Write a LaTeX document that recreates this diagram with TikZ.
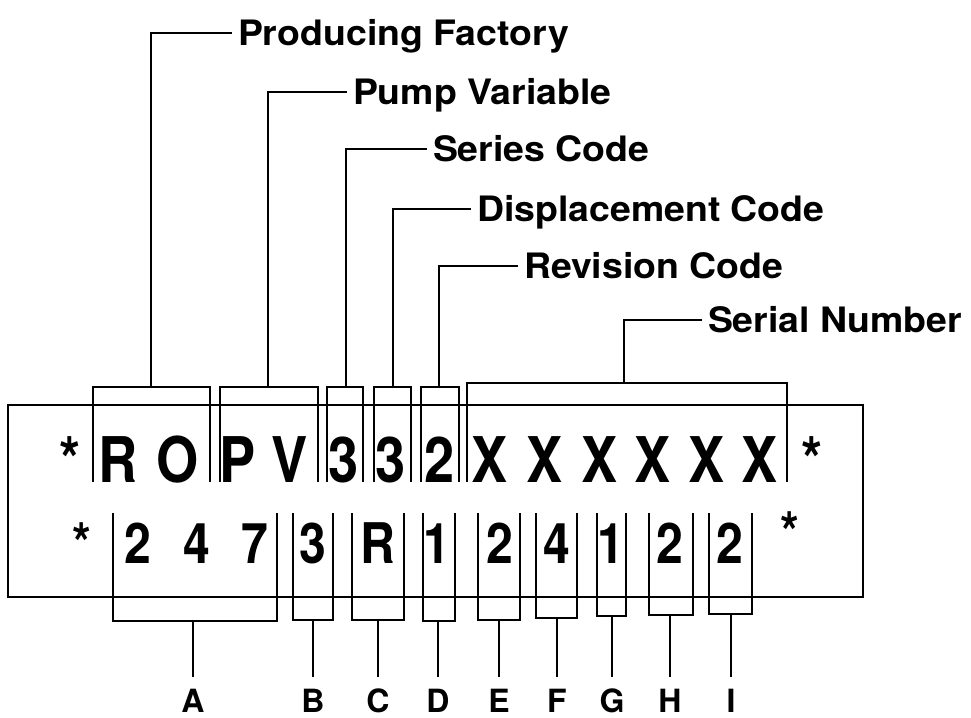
\documentclass[tikz,border=0pt]{standalone}
\usepackage{fontspec}
\setmainfont{TeX Gyre Heros}
\newfontfamily\placafont{TeX Gyre Heros}[FakeStretch=0.86]
\newfontfamily\rotulofont{TeX Gyre Heros}[FakeStretch=1.07]

\begin{document}
\begin{tikzpicture}[x=1pt, y=-1pt, line width=2pt,
    rotulo/.style={anchor=west, inner sep=0pt, inner xsep=5pt, text height=25pt, text depth=0pt,
        font=\rotulofont\bfseries\fontsize{35}{35}\selectfont},
    grande/.style={anchor=base, inner sep=0pt, font=\placafont\bfseries\fontsize{63}{63}\selectfont},
    chico/.style={anchor=base, inner sep=0pt, font=\placafont\bfseries\fontsize{56}{56}\selectfont},
    letra/.style={anchor=base, inner sep=0pt, text height=24pt, font=\bfseries\fontsize{32}{32}\selectfont}]
        \useasboundingbox (0,0) rectangle (971,717);

        % Placa exterior
        \draw[line width=2.4pt] (8,405) rectangle (863,597);

        % Fila superior de caracteres
        \node[grande] (t0) at (70,482) {*};
        \node[grande] (t1) at (118,482) {R};
        \node[grande] (t2) at (178,482) {O};
        \node[grande] (t3) at (238,482) {P};
        \node[grande] (t4) at (290,482) {V};
        \node[grande] (t5) at (344,482) {3};
        \node[grande] (t6) at (391,482) {3};
        \node[grande] (t7) at (440,482) {2};
        \node[grande] (t8) at (490,482) {X};
        \node[grande] (t9) at (545,482) {X};
        \node[grande] (t10) at (600,482) {X};
        \node[grande] (t11) at (653,482) {X};
        \node[grande] (t12) at (707,482) {X};
        \node[grande] (t13) at (760,482) {X};
        \node[grande] (t14) at (812,482) {*};

        % Fila inferior de caracteres
        \node[chico] (b0) at (82,563) {*};
        \node[chico] (b1) at (138,563) {2};
        \node[chico] (b2) at (197,563) {4};
        \node[chico] (b3) at (255,563) {7};
        \node[chico] (b4) at (313,563) {3};
        \node[chico] (b5) at (378,563) {R};
        \node[chico] (b6) at (437,563) {1};
        \node[chico] (b7) at (500,563) {2};
        \node[chico] (b8) at (557,563) {4};
        \node[chico] (b9) at (611,563) {1};
        \node[chico] (b10) at (670,563) {2};
        \node[chico] (b11) at (730,563) {2};
        \node[chico] (b12) at (790,552) {*};

        % Corchetes de la fila superior
        \draw (93,482) |- (210,387) -- (210,482);
        \draw (220,482) |- (318,387) -- (318,482);
        \draw (327,482) |- (363,387) -- (363,482);
        \draw (374,482) |- (411,387) -- (411,482);
        \draw (421,482) |- (459,387) -- (459,482);
        \draw (467,482) |- (787,383) -- (787,482);
        \coordinate (fab) at (151,387);
        \coordinate (var) at (268,387);
        \coordinate (ser) at (346,387);
        \coordinate (des) at (393,387);
        \coordinate (rev) at (439,387);
        \coordinate (num) at (624,383);

        % Rotulos superiores
        \node[rotulo] (fabtxt) at (232,33) {Producing Factory};
        \node[rotulo] (vartxt) at (347,92) {Pump Variable};
        \node[rotulo] (sertxt) at (427,149) {Series Code};
        \node[rotulo] (destxt) at (471,209) {Displacement Code};
        \node[rotulo] (revtxt) at (518,266) {Revision Code};
        \node[rotulo] (numtxt) at (702,320) {Serial Number};

        \draw (fab) |- (fabtxt.west);
        \draw (var) |- (vartxt.west);
        \draw (ser) |- (sertxt.west);
        \draw (des) |- (destxt.west);
        \draw (rev) |- (revtxt.west);
        \draw (num) |- (numtxt.west);

        % Corchetes de la fila inferior
        \draw (113,513) |- (277,621) -- (277,513);
        \draw (293,513) |- (333,620) -- (333,513);
        \draw (352,513) |- (404,620) -- (404,513);
        \draw (423,513) |- (455,621) -- (455,513);
        \draw (478,513) |- (520,620) -- (520,513);
        \draw (536,513) |- (577,618) -- (577,513);
        \draw (597,513) |- (626,616) -- (626,513);
        \draw (649,513) |- (693,615) -- (693,513);
        \draw (709,513) |- (752,614) -- (752,513);
        \coordinate (ca) at (193,621);
        \coordinate (cb) at (313,620);
        \coordinate (cc) at (378,620);
        \coordinate (cd) at (438,621);
        \coordinate (ce) at (499,620);
        \coordinate (cf) at (557,618);
        \coordinate (cg) at (612,616);
        \coordinate (ch) at (670,615);
        \coordinate (ci) at (731,614);

        % Letras inferiores
        \node[letra] (la) at (193,712) {A};
        \node[letra] (lb) at (313,712) {B};
        \node[letra] (lc) at (378,712) {C};
        \node[letra] (ld) at (438,712) {D};
        \node[letra] (le) at (499,712) {E};
        \node[letra] (lf) at (557,712) {F};
        \node[letra] (lg) at (612,712) {G};
        \node[letra] (lh) at (670,712) {H};
        \node[letra] (li) at (731,712) {I};

        \draw[shorten >=10pt] (ca) -- (la.north);
        \draw[shorten >=10pt] (cb) -- (lb.north);
        \draw[shorten >=10pt] (cc) -- (lc.north);
        \draw[shorten >=10pt] (cd) -- (ld.north);
        \draw[shorten >=10pt] (ce) -- (le.north);
        \draw[shorten >=10pt] (cf) -- (lf.north);
        \draw[shorten >=10pt] (cg) -- (lg.north);
        \draw[shorten >=10pt] (ch) -- (lh.north);
        \draw[shorten >=10pt] (ci) -- (li.north);

    \end{tikzpicture}
\end{document}
